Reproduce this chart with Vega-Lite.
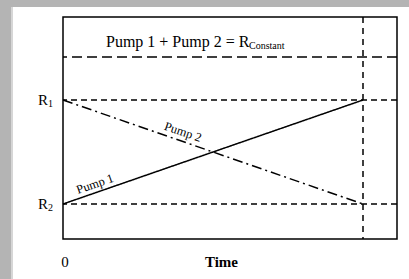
{
  "$schema": "https://vega.github.io/schema/vega-lite/v6.json",
  "width": 334,
  "height": 222,
  "autosize": {"type": "none"},
  "padding": {"left": 63, "top": 17, "right": 12, "bottom": 40},
  "background": "#b4b4b4",
  "config": {"view": {"stroke": null}},
  "datasets": {
    "lines": [
      {"t": 0, "r": 35, "pump": "Pump 1"},
      {"t": 300, "r": 139, "pump": "Pump 1"},
      {"t": 0, "r": 139, "pump": "Pump 2"},
      {"t": 300, "r": 35, "pump": "Pump 2"}
    ],
    "levels": [
      {"r": 139, "name": "R1"},
      {"r": 35, "name": "R2"}
    ]
  },
  "layer": [
    {
      "data": {"values": [{}]},
      "mark": {"type": "rect", "color": "#d6d6d6"},
      "encoding": {
        "x": {"datum": -52, "type": "quantitative", "scale": {"domain": [0, 334], "nice": false, "zero": false}, "axis": null},
        "x2": {"datum": -50},
        "y": {"datum": 232, "type": "quantitative", "scale": {"domain": [0, 222], "nice": false, "zero": false}, "axis": null},
        "y2": {"datum": -40}
      }
    },
    {
      "data": {"values": [{}]},
      "mark": {"type": "rect", "color": "white"},
      "encoding": {
        "x": {"datum": -50, "type": "quantitative"},
        "x2": {"datum": 346},
        "y": {"datum": 232, "type": "quantitative"},
        "y2": {"datum": -40}
      }
    },
    {
      "data": {"values": [{"r": 182}]},
      "mark": {"type": "rule", "color": "black", "strokeWidth": 1.5, "strokeDash": [10, 5]},
      "encoding": {"y": {"field": "r", "type": "quantitative"}}
    },
    {
      "data": {"name": "levels"},
      "mark": {"type": "rule", "color": "black", "strokeWidth": 1.3, "strokeDash": [6, 4]},
      "encoding": {"y": {"field": "r", "type": "quantitative"}}
    },
    {
      "data": {"values": [{"t": 300}]},
      "mark": {"type": "rule", "color": "black", "strokeWidth": 1.5, "strokeDash": [6, 5]},
      "encoding": {"x": {"field": "t", "type": "quantitative"}}
    },
    {
      "data": {"name": "lines"},
      "mark": {"type": "line", "color": "black", "strokeWidth": 1.5},
      "encoding": {
        "x": {"field": "t", "type": "quantitative"},
        "y": {"field": "r", "type": "quantitative"},
        "detail": {"field": "pump"},
        "strokeDash": {"field": "pump", "type": "nominal", "scale": {"domain": ["Pump 1", "Pump 2"], "range": [[1, 0], [10, 4, 2, 4]]}, "legend": null}
      }
    },
    {
      "data": {"values": [{"x": 43, "y": 192, "label": "Pump 1 + Pump 2 = R"}]},
      "mark": {"type": "text", "align": "left", "baseline": "alphabetic", "fontSize": 16, "font": "Liberation Serif", "fill": "black"},
      "encoding": {"x": {"field": "x", "type": "quantitative"}, "y": {"field": "y", "type": "quantitative"}, "text": {"field": "label"}}
    },
    {
      "data": {"values": [{"x": 186, "y": 190, "label": "Constant"}]},
      "mark": {"type": "text", "align": "left", "baseline": "alphabetic", "fontSize": 10, "font": "Liberation Serif", "fill": "black"},
      "encoding": {"x": {"field": "x", "type": "quantitative"}, "y": {"field": "y", "type": "quantitative"}, "text": {"field": "label"}}
    },
    {
      "data": {"values": [{"x": -15, "y": 134.5, "label": "R"}, {"x": -15, "y": 30.5, "label": "R"}]},
      "mark": {"type": "text", "align": "right", "baseline": "alphabetic", "fontSize": 15, "font": "Liberation Serif", "fill": "black"},
      "encoding": {"x": {"field": "x", "type": "quantitative"}, "y": {"field": "y", "type": "quantitative"}, "text": {"field": "label"}}
    },
    {
      "data": {"values": [{"x": -15, "y": 132, "label": "1"}, {"x": -15, "y": 28, "label": "2"}]},
      "mark": {"type": "text", "align": "left", "baseline": "alphabetic", "fontSize": 10, "font": "Liberation Serif", "fill": "black"},
      "encoding": {"x": {"field": "x", "type": "quantitative"}, "y": {"field": "y", "type": "quantitative"}, "text": {"field": "label"}}
    },
    {
      "data": {"values": [{"x": 2, "y": -28, "label": "0"}]},
      "mark": {"type": "text", "align": "center", "baseline": "alphabetic", "fontSize": 15, "font": "Liberation Serif", "fill": "black"},
      "encoding": {"x": {"field": "x", "type": "quantitative"}, "y": {"field": "y", "type": "quantitative"}, "text": {"field": "label"}}
    },
    {
      "data": {"values": [{"x": 158.5, "y": -28, "label": "Time"}]},
      "mark": {"type": "text", "align": "center", "baseline": "alphabetic", "fontSize": 15, "fontWeight": "bold", "font": "Liberation Serif", "fill": "black"},
      "encoding": {"x": {"field": "x", "type": "quantitative"}, "y": {"field": "y", "type": "quantitative"}, "text": {"field": "label"}}
    },
    {
      "data": {"values": [{"x": 32, "y": 55, "label": "Pump 1"}]},
      "mark": {"type": "text", "align": "center", "baseline": "middle", "fontSize": 12.5, "angle": -19, "font": "Liberation Serif", "fill": "black"},
      "encoding": {"x": {"field": "x", "type": "quantitative"}, "y": {"field": "y", "type": "quantitative"}, "text": {"field": "label"}}
    },
    {
      "data": {"values": [{"x": 120, "y": 107, "label": "Pump 2"}]},
      "mark": {"type": "text", "align": "center", "baseline": "middle", "fontSize": 12.5, "angle": 19, "font": "Liberation Serif", "fill": "black"},
      "encoding": {"x": {"field": "x", "type": "quantitative"}, "y": {"field": "y", "type": "quantitative"}, "text": {"field": "label"}}
    },
    {
      "data": {"values": [{}]},
      "mark": {"type": "rect", "fill": null, "fillOpacity": 0, "stroke": "black", "strokeWidth": 1.5},
      "encoding": {
        "x": {"datum": 0, "type": "quantitative"},
        "x2": {"datum": 334},
        "y": {"datum": 0, "type": "quantitative"},
        "y2": {"datum": 222}
      }
    }
  ]
}
